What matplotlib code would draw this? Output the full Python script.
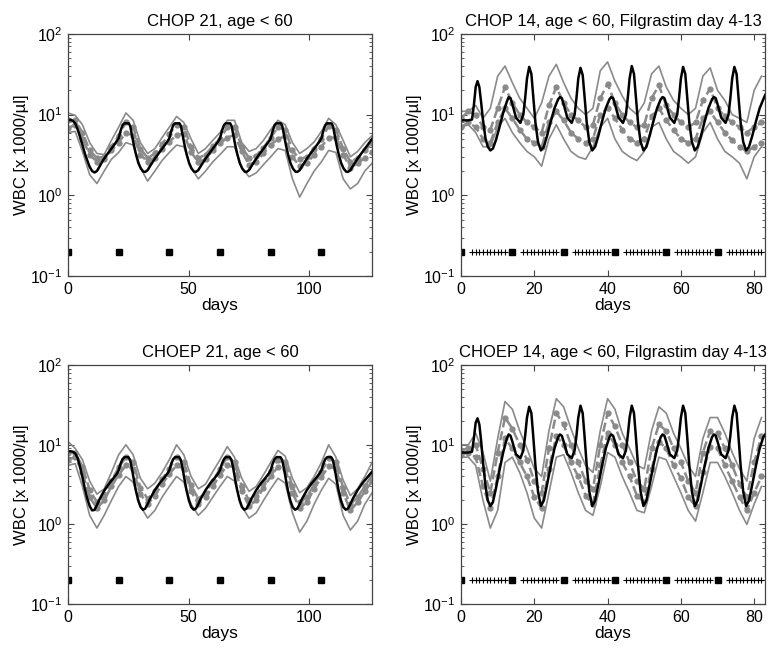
import matplotlib
matplotlib.use("Agg")
import matplotlib.pyplot as plt
from matplotlib.ticker import LogLocator, NullFormatter, FixedLocator

plt.rcParams['font.family'] = ['Liberation Sans', 'DejaVu Sans']
plt.rcParams['mathtext.default'] = 'regular'

# ---------------- data ----------------
titles = ["CHOP 21, age < 60",
          "CHOP 14, age < 60, Filgrastim day 4-13",
          "CHOEP 21, age < 60",
          "CHOEP 14, age < 60, Filgrastim day 4-13"]

chemo21 = [0, 21, 42, 63, 84, 105]
chemo14 = [0, 14, 28, 42, 56, 70]
filgrastim = [3, 4, 5, 6, 7, 8, 9, 10, 11, 12,
              17, 18, 19, 20, 21, 22, 23, 24, 25, 26,
              31, 32, 33, 34, 35, 36, 37, 38, 39, 40,
              45, 46, 47, 48, 49, 50, 51, 52, 53, 54,
              59, 60, 61, 62, 63, 64, 65, 66, 67, 68,
              73, 74, 75, 76, 77, 78, 79, 80, 81, 82]

# model curves (black)
m1_days = [0, 1, 2, 3, 4, 5, 6, 7, 8, 9, 10, 11, 12, 13, 14, 15, 16, 17, 18, 19, 20,
           21, 21.8, 22.6, 23.3, 25.2, 25.8, 26.5, 27.3, 28.2, 29.2, 30.2, 31.2, 32, 33, 34, 36, 38, 40, 41.3,
           42, 42.8, 43.6, 44.3, 46.2, 46.8, 47.5, 48.3, 49.2, 50.2, 51.2, 52.2, 53, 54, 55, 57, 59, 61, 62.3,
           63, 63.8, 64.6, 65.3, 67.2, 67.8, 68.5, 69.3, 70.2, 71.2, 72.2, 73.2, 74, 75, 76, 78, 80, 82, 83.3,
           84, 84.8, 85.6, 86.3, 88.2, 88.8, 89.5, 90.3, 91.2, 92.2, 93.2, 94.2, 95, 96, 97, 99, 101, 103, 104.3,
           105, 105.8, 106.6, 107.3, 109.2, 109.8, 110.5, 111.3, 112.2, 113.2, 114.2, 115.2, 116, 117, 118, 120, 122, 124, 126]
m1_wbc = [8.6, 8.6, 8.4, 7.8, 6.6, 5.3, 4.2, 3.3, 2.7, 2.25, 2.0, 1.92, 2.0, 2.25, 2.55, 2.85, 3.15, 3.45, 3.8, 4.15, 4.6,
          5.1, 6.3, 7.4, 7.8, 7.8, 7.2, 5.6, 4.2, 3.2, 2.5, 2.15, 1.97, 1.95, 2.05, 2.3, 2.85, 3.45, 4.15, 4.7,
          5.1, 6.3, 7.4, 7.8, 7.8, 7.2, 5.6, 4.2, 3.2, 2.5, 2.15, 1.97, 1.95, 2.05, 2.3, 2.85, 3.45, 4.15, 4.7,
          5.1, 6.3, 7.4, 7.8, 7.8, 7.2, 5.6, 4.2, 3.2, 2.5, 2.15, 1.97, 1.95, 2.05, 2.3, 2.85, 3.45, 4.15, 4.7,
          5.1, 6.3, 7.4, 7.8, 7.8, 7.2, 5.6, 4.2, 3.2, 2.5, 2.15, 1.97, 1.95, 2.05, 2.3, 2.85, 3.45, 4.15, 4.7,
          5.1, 6.3, 7.4, 7.8, 7.8, 7.2, 5.6, 4.2, 3.2, 2.5, 2.15, 1.97, 1.95, 2.05, 2.3, 2.85, 3.45, 4.15, 5.0]

m3_days = [0, 1, 2, 3, 4, 5, 6, 7, 8, 9, 10, 11, 12, 13, 15, 17, 19, 20.3,
           21, 21.8, 22.6, 23.4, 25, 25.7, 26.4, 27.2, 28.1, 29.1, 30.1, 31.1, 32, 33, 34, 36, 38, 40, 41.3,
           42, 42.8, 43.6, 44.4, 46, 46.7, 47.4, 48.2, 49.1, 50.1, 51.1, 52.1, 53, 54, 55, 57, 59, 61, 62.3,
           63, 63.8, 64.6, 65.4, 67, 67.7, 68.4, 69.2, 70.1, 71.1, 72.1, 73.1, 74, 75, 76, 78, 80, 82, 83.3,
           84, 84.8, 85.6, 86.4, 88, 88.7, 89.4, 90.2, 91.1, 92.1, 93.1, 94.1, 95, 96, 97, 99, 101, 103, 104.3,
           105, 105.8, 106.6, 107.4, 109, 109.7, 110.4, 111.2, 112.1, 113.1, 114.1, 115.1, 116, 117, 118, 120, 122, 124, 126]
m3_wbc = [8.3, 8.3, 8.2, 7.8, 6.8, 5.3, 3.9, 2.8, 2.1, 1.7, 1.5, 1.52, 1.75, 2.05, 2.65, 3.25, 3.85, 4.35,
          4.8, 5.8, 6.6, 7.0, 7.0, 6.5, 5.2, 3.8, 2.7, 2.0, 1.65, 1.53, 1.58, 1.8, 2.1, 2.7, 3.3, 3.9, 4.4,
          4.8, 5.8, 6.6, 7.0, 7.0, 6.5, 5.2, 3.8, 2.7, 2.0, 1.65, 1.53, 1.58, 1.8, 2.1, 2.7, 3.3, 3.9, 4.4,
          4.8, 5.8, 6.6, 7.0, 7.0, 6.5, 5.2, 3.8, 2.7, 2.0, 1.65, 1.53, 1.58, 1.8, 2.1, 2.7, 3.3, 3.9, 4.4,
          4.8, 5.8, 6.6, 7.0, 7.0, 6.5, 5.2, 3.8, 2.7, 2.0, 1.65, 1.53, 1.58, 1.8, 2.1, 2.7, 3.3, 3.9, 4.4,
          4.8, 5.8, 6.6, 7.0, 7.0, 6.5, 5.2, 3.8, 2.7, 2.0, 1.65, 1.53, 1.58, 1.8, 2.1, 2.7, 3.3, 3.9, 4.6]

m2_days = [0, 1, 2, 3, 3.5, 4, 4.5, 5, 5.5, 6, 6.7, 7.3, 8, 8.7, 9.5, 10.5, 11.5, 12.5, 13, 13.5,
           14, 15, 16.2, 17, 17.5, 18, 18.6, 19.2, 19.7, 20.3, 21, 21.8, 22.6, 23.5, 24.5, 25.5, 26.5, 27, 27.5,
           28, 29, 30.2, 31, 31.5, 32, 32.6, 33.2, 33.7, 34.3, 35, 35.8, 36.6, 37.5, 38.5, 39.5, 40.5, 41, 41.5,
           42, 43, 44.2, 45, 45.5, 46, 46.6, 47.2, 47.7, 48.3, 49, 49.8, 50.6, 51.5, 52.5, 53.5, 54.5, 55, 55.5,
           56, 57, 58.2, 59, 59.5, 60, 60.6, 61.2, 61.7, 62.3, 63, 63.8, 64.6, 65.5, 66.5, 67.5, 68.5, 69, 69.5,
           70, 71, 72.2, 73, 73.5, 74, 74.6, 75.2, 75.7, 76.3, 77, 77.8, 78.6, 79.5, 80.5, 81.5, 82.5, 83]
m2_wbc = [8.5, 8.5, 8.5, 8.7, 13, 22, 26, 22, 14, 8.5, 5, 4, 3.6, 3.8, 4.8, 7, 10.5, 14.5, 16.5, 16,
          13.5, 9.2, 7.9, 10, 16, 28, 39, 32, 17, 8, 4.6, 3.6, 4.0, 5.5, 8.3, 12, 15.5, 16.5, 16,
          13.5, 9.2, 7.9, 10, 16, 28, 38, 31, 17, 8, 4.6, 3.6, 4.0, 5.5, 8.3, 12, 15.5, 16.5, 16,
          13.5, 9.2, 7.9, 10, 16, 28, 40, 32, 17, 8, 4.6, 3.6, 4.0, 5.5, 8.3, 12, 15.5, 16.5, 16,
          13.5, 9.2, 7.9, 10, 16, 28, 39, 32, 17, 8, 4.6, 3.6, 4.0, 5.5, 8.3, 12, 15.5, 16.5, 16,
          13.5, 9.2, 7.9, 10, 16, 28, 39, 32, 17, 8, 4.6, 3.6, 4.0, 5.5, 8.3, 12, 15.5, 17.5]

m4_days = m2_days
m4_wbc = [8.0, 8.0, 8.0, 8.2, 12, 19, 21.5, 18, 11, 6, 3, 2.0, 1.7, 1.9, 2.8, 4.8, 8, 12, 13.5, 13,
          11, 7.6, 6.8, 8.5, 13, 22, 30, 25, 13, 5.5, 2.6, 1.7, 2.0, 3.2, 5.5, 9, 12.5, 13.5, 13,
          11, 7.6, 6.8, 8.5, 13, 22, 31, 25, 13, 5.5, 2.6, 1.7, 2.0, 3.2, 5.5, 9, 12.5, 13.5, 13,
          11, 7.6, 6.8, 8.5, 13, 22, 31, 25, 13, 5.5, 2.6, 1.7, 2.0, 3.2, 5.5, 9, 12.5, 13.5, 13,
          11, 7.6, 6.8, 8.5, 13, 22, 31, 25, 13, 5.5, 2.6, 1.7, 2.0, 3.2, 5.5, 9, 12.5, 13.5, 13,
          11, 7.6, 6.8, 8.5, 13, 22, 31, 25, 13, 5.5, 2.6, 1.7, 2.0, 3.2, 5.5, 9, 12.5, 13.5]

# observed data (gray), every 3 days for the 21-day schedules
obs21_days = [0, 3, 6, 9, 12, 15, 18, 21, 24, 27, 30, 33, 36, 39, 42, 45, 48, 51, 54, 57, 60,
              63, 66, 69, 72, 75, 78, 81, 84, 87, 90, 93, 96, 99, 102, 105, 108, 111, 114, 117, 120, 123, 126]

p1_upper = [10.5, 9.8, 7.5, 4.5, 3.3, 3.2, 4.8, 7.0, 10.5, 8.5, 4.5, 3.3, 3.8, 5.2, 7.0, 9.5, 8.0, 5.0, 3.3, 3.8, 4.8,
            6.0, 8.5, 8.5, 4.5, 3.5, 3.8, 4.8, 6.5, 8.5, 7.5, 4.5, 3.3, 3.8, 4.6, 6.2, 9.0, 7.5, 4.8, 3.0, 3.5, 4.5, 5.5]
p1_dotA = [8.5, 8.5, 6.0, 3.6, 2.9, 3.0, 4.0, 5.5, 8.0, 7.0, 3.8, 2.9, 3.3, 4.3, 5.8, 7.5, 7.0, 4.0, 2.9, 3.2, 4.1,
           5.0, 7.0, 7.0, 4.0, 2.9, 3.1, 3.9, 5.2, 7.0, 6.5, 3.6, 2.8, 3.0, 3.8, 5.0, 7.2, 6.5, 3.8, 2.6, 2.9, 3.6, 4.4]
p1_dotB = [6.8, 7.5, 5.0, 3.2, 2.6, 2.8, 3.6, 4.5, 6.0, 5.5, 3.2, 2.6, 2.9, 3.8, 4.6, 5.6, 5.8, 3.4, 2.6, 2.8, 3.6,
           4.4, 5.2, 5.6, 3.5, 2.4, 2.6, 3.3, 4.2, 5.0, 5.4, 3.0, 2.3, 2.5, 3.2, 4.0, 5.2, 5.2, 3.2, 2.2, 2.5, 2.9, 3.4]
p1_lower = [6.0, 6.2, 3.5, 1.8, 1.4, 2.0, 2.8, 3.4, 4.5, 4.2, 2.2, 1.5, 2.0, 2.7, 3.4, 4.2, 4.0, 2.2, 1.6, 2.0, 2.6,
            3.2, 4.0, 4.0, 2.2, 1.7, 1.9, 2.4, 3.0, 3.8, 3.6, 1.6, 0.95, 1.4, 2.0, 2.6, 3.6, 3.4, 1.6, 1.2, 1.4, 2.0, 2.5]

p3_upper = [11, 9.0, 6.5, 3.5, 2.4, 2.8, 4.5, 7.5, 10, 7.5, 3.8, 2.8, 3.3, 4.5, 6.5, 10, 7.5, 4.0, 2.8, 3.2, 4.6,
            6.5, 9.5, 7.0, 3.8, 2.6, 3.0, 4.2, 6.0, 8.5, 7.2, 3.8, 2.5, 2.9, 4.0, 6.0, 10, 7.0, 3.6, 2.3, 2.8, 4.0, 6.0]
p3_dotA = [8.0, 8.0, 5.3, 2.7, 1.9, 2.3, 3.5, 5.2, 7.0, 6.0, 2.9, 2.1, 2.6, 3.7, 5.0, 7.0, 6.0, 3.1, 2.1, 2.5, 3.5,
           5.0, 7.0, 6.0, 3.0, 2.0, 2.3, 3.3, 4.7, 6.5, 6.0, 3.0, 1.9, 2.2, 3.2, 4.6, 6.8, 6.0, 2.9, 1.8, 2.2, 3.0, 4.2]
p3_dotB = [6.5, 7.0, 4.5, 2.2, 1.6, 2.0, 3.0, 4.2, 5.5, 5.0, 2.4, 1.8, 2.3, 3.2, 4.3, 5.5, 5.0, 2.6, 1.8, 2.2, 3.0,
           4.2, 5.5, 5.2, 2.6, 1.7, 2.0, 2.9, 4.0, 5.3, 5.0, 2.5, 1.6, 1.9, 2.8, 3.9, 5.4, 5.0, 2.5, 1.5, 1.9, 2.6, 3.5]
p3_lower = [5.5, 5.8, 3.0, 1.3, 0.9, 1.3, 2.0, 3.0, 4.0, 3.4, 1.7, 1.2, 1.5, 2.2, 3.0, 4.0, 3.4, 1.8, 1.3, 1.6, 2.2,
            3.0, 4.0, 3.5, 1.7, 1.2, 1.4, 2.0, 2.8, 3.8, 3.3, 1.4, 0.8, 1.1, 1.8, 2.7, 3.8, 3.2, 1.3, 0.85, 1.1, 1.8, 2.5]

# observed data (gray), every 2 days for the 14-day schedules
obs14_days = [0, 2, 4, 6, 8, 10, 12, 14, 16, 18, 20, 22, 24, 26, 28, 30, 32, 34, 36, 38, 40,
              42, 44, 46, 48, 50, 52, 54, 56, 58, 60, 62, 64, 66, 68, 70, 72, 74, 76, 78, 80, 82]

p2_upper = [11, 11, 13, 9, 12, 30, 40, 25, 16, 12, 9, 14, 30, 42, 25, 16, 12, 10, 12, 35, 45,
            26, 17, 12, 10, 14, 32, 40, 22, 15, 12, 10, 12, 30, 38, 20, 15, 10, 9, 8, 20, 30]
p2_dotA = [9, 11, 10, 7, 6.5, 12, 22, 14, 10, 8, 7, 6, 13, 22, 14, 10, 8.5, 7, 7.5, 16, 24,
           14, 10, 8, 7, 7.5, 16, 23, 13, 10, 8, 7, 8, 15, 21, 12, 9.5, 8, 7, 6, 7, 8]
p2_dotB = [7, 8, 7, 5, 4.5, 8, 12, 9, 6.5, 5, 4.5, 4, 8, 11, 8.5, 6, 5, 4.5, 5, 10, 12,
           9, 6.5, 5, 4.5, 5, 9.5, 12, 8.5, 6.5, 5, 4.5, 5, 9, 11, 8, 6, 4.8, 4, 3.5, 4, 4.5]
p2_lower = [7, 7.5, 6, 4, 4, 7, 9, 6, 4.5, 3.5, 3, 2.3, 5, 7.5, 5, 3.5, 3, 2.8, 4, 7, 9,
            5, 3.5, 3, 2.7, 3.5, 7, 8, 5, 3.5, 3, 2.5, 3, 6, 8, 5, 3.5, 3, 2.5, 1.6, 3, 4]

p4_upper = [10, 10, 14, 8, 3.5, 12, 35, 28, 15, 9, 5, 4, 15, 38, 30, 16, 9, 5.5, 4.5, 15, 38,
            28, 14, 9, 5.5, 5, 15, 30, 25, 14, 9, 5.5, 4, 12, 22, 22, 14, 8, 5, 3.5, 12, 22]
p4_dotA = [8.5, 9, 10, 5, 2.5, 8, 22, 16, 10, 6.5, 3.5, 2.5, 9, 25, 18, 10, 6, 3.5, 2.8, 10, 25,
           17, 10, 6, 3.5, 2.8, 9, 18, 15, 9, 6, 3.5, 2.5, 8, 15, 14, 9, 5.5, 3.2, 2.2, 6, 13]
p4_dotB = [7.5, 8, 7, 3, 1.6, 4, 12, 9, 6, 4, 2.2, 1.6, 5, 13, 10, 6, 4, 2.3, 1.8, 5.5, 14,
           10, 6, 4, 2.3, 1.9, 5, 11, 9, 5.5, 3.8, 2.2, 1.7, 4.5, 9.5, 9, 5.5, 3.5, 2.2, 1.5, 2.5, 4]
p4_lower = [7, 7, 5.5, 2, 0.9, 1.5, 6, 7, 4.5, 2.5, 1.2, 0.9, 2.5, 7, 7.5, 4.5, 2.5, 1.5, 1.3, 3, 8,
            7, 4, 2.5, 1.5, 1.4, 3, 7, 6.5, 4, 2.5, 1.5, 1.1, 2.5, 6, 6, 4, 2.5, 1.5, 1.0, 1.8, 3]

marker_level = 0.2
gray = '#8a8a8a'
edge = '#444444'


def panel(ax, title, xmax, xticks, obs_days, upper, dotA, dotB, lower,
          m_days, m_wbc, chemo, gcsf=None):
    ax.plot(obs_days, upper, color=gray, lw=1.2)
    ax.plot(obs_days, lower, color=gray, lw=1.2)
    ax.plot(obs_days, dotA, color=gray, lw=1.8, ls='--', marker='o', ms=3.5)
    ax.plot(obs_days, dotB, color=gray, lw=1.8, ls='--', marker='o', ms=3.5)
    ax.plot(m_days, m_wbc, color='black', lw=1.8)
    if gcsf is not None:
        ax.plot(gcsf, [marker_level] * len(gcsf), ls='none', marker='+',
                color='black', ms=5, mew=0.8)
    ax.plot(chemo, [marker_level] * len(chemo), ls='none', marker='s',
            color='black', ms=4)
    ax.set_yscale('log')
    ax.set_ylim(0.1, 100)
    ax.set_xlim(0, xmax)
    ax.xaxis.set_major_locator(FixedLocator(xticks))
    ax.yaxis.set_major_locator(LogLocator(base=10, numticks=10))
    ax.yaxis.set_minor_locator(LogLocator(base=10, subs=range(2, 10), numticks=10))
    ax.yaxis.set_minor_formatter(NullFormatter())
    ax.tick_params(which='both', direction='in', top=True, right=True,
                   color=edge, labelsize=11.5, pad=4)
    ax.tick_params(which='major', length=4)
    ax.tick_params(which='minor', length=2)
    for s in ax.spines.values():
        s.set_color(edge)
        s.set_linewidth(0.9)
    ax.set_title(title, fontsize=12, pad=6)
    ax.set_xlabel('days', fontsize=12.5, labelpad=1)
    ax.set_ylabel('WBC [x 1000/µl]', fontsize=12, labelpad=1)


fig = plt.figure(figsize=(7.68, 6.49), dpi=100)
ax1 = fig.add_axes([0.0885, 0.5747, 0.396, 0.373])
ax2 = fig.add_axes([0.6003, 0.5747, 0.396, 0.373])
ax3 = fig.add_axes([0.0885, 0.0693, 0.396, 0.368])
ax4 = fig.add_axes([0.6003, 0.0693, 0.396, 0.368])

panel(ax1, titles[0], 126, [0, 50, 100], obs21_days, p1_upper, p1_dotA, p1_dotB, p1_lower,
      m1_days, m1_wbc, chemo21)
panel(ax2, titles[1], 83, [0, 20, 40, 60, 80], obs14_days, p2_upper, p2_dotA, p2_dotB, p2_lower,
      m2_days, m2_wbc, chemo14, filgrastim)
panel(ax3, titles[2], 126, [0, 50, 100], obs21_days, p3_upper, p3_dotA, p3_dotB, p3_lower,
      m3_days, m3_wbc, chemo21)
panel(ax4, titles[3], 83, [0, 20, 40, 60, 80], obs14_days, p4_upper, p4_dotA, p4_dotB, p4_lower,
      m4_days, m4_wbc, chemo14, filgrastim)

fig.savefig('out.png', dpi=100)
